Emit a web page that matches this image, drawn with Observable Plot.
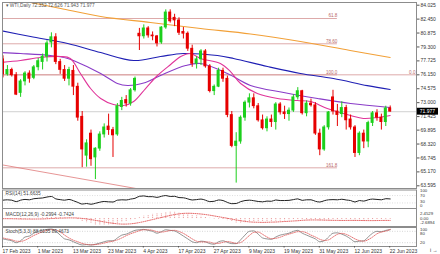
<!DOCTYPE html>
<html><head><meta charset="utf-8">
<script src="https://cdn.jsdelivr.net/npm/d3@7"></script>
<script src="https://cdn.jsdelivr.net/npm/@observablehq/plot@0.6"></script>
<style>
body{margin:0;background:#fff;}
#wrap{position:relative;width:440px;height:254px;overflow:hidden;background:#fff;}
#wrap svg{position:absolute;left:0;}
</style></head><body><div id="wrap"></div>
<script>
// ---------- data ----------
const tickIdx = [0, 8, 16, 24, 32, 40, 48, 56, 64, 72, 80, 88];
const tickLabels = ["17 Feb 2023","1 Mar 2023","13 Mar 2023","23 Mar 2023","4 Apr 2023","17 Apr 2023","27 Apr 2023","9 May 2023","19 May 2023","31 May 2023","12 Jun 2023","22 Jun 2023"];

const open  = [77.9,76.2,76.7,76.1,74.1,75.4,76.3,75.8,77.0,77.6,78.2,79.8,80.4,77.6,76.7,75.7,76.6,74.8,71.4,67.0,69.5,66.8,67.8,69.4,70.3,69.9,69.4,72.5,73.3,72.9,74.4,80.8,80.5,81.4,80.6,80.5,79.8,81.5,83.2,82.6,82.3,81.0,80.8,79.1,77.4,77.9,78.8,77.1,74.3,74.8,76.6,75.7,71.6,68.1,68.6,71.3,73.0,73.5,72.6,71.0,70.1,71.1,70.8,72.8,71.9,71.7,72.1,73.6,74.3,71.8,72.9,72.7,69.5,67.7,70.2,73.6,72.0,71.7,72.4,71.1,70.2,67.3,69.5,68.6,70.7,71.8,71.3,70.8,72.352];
const high  = [78.3,77.2,76.9,76.4,75.6,76.5,76.6,77.2,78.0,78.5,80.0,80.9,80.8,77.9,77.2,77.0,77.2,75.2,72.0,68.8,69.9,67.9,69.7,70.6,71.7,70.2,72.9,73.6,73.8,74.6,75.9,81.4,81.8,81.6,81.0,80.6,81.6,83.5,83.5,83.0,82.6,81.5,81.0,79.5,78.2,79.0,79.0,77.3,75.0,76.9,76.9,76.0,72.0,69.6,71.5,73.2,74.0,74.0,72.9,71.6,71.4,71.6,73.0,73.0,72.6,72.4,73.9,74.7,74.4,73.2,73.4,73.0,70.0,70.4,72.0,74.4,72.8,73.1,72.7,71.6,70.4,69.7,69.9,70.9,72.0,72.2,71.7,72.6,72.626];
const low   = [75.8,76.0,75.9,73.8,73.6,74.9,75.2,75.6,76.6,76.7,77.6,79.2,77.3,76.2,75.4,74.9,73.8,70.9,65.65,65.7,65.8,64.3,67.5,69.0,69.3,66.8,69.2,72.1,72.5,72.6,74.2,78.9,80.2,80.3,80.0,79.3,79.6,81.3,82.0,81.6,80.6,80.2,78.8,77.0,76.8,77.2,76.9,74.1,73.8,74.7,75.3,71.3,67.9,63.9,68.3,70.9,72.4,72.3,70.8,69.9,69.7,70.2,69.9,71.6,71.1,70.9,71.9,73.3,71.6,71.4,72.5,69.3,67.0,67.5,69.9,71.6,70.3,71.3,69.9,69.9,66.8,67.0,67.8,67.9,70.3,70.9,69.9,70.3,71.943];
const close = [76.2,76.7,76.1,73.9,75.4,76.3,75.7,77.0,77.7,78.2,79.7,80.4,77.6,76.7,75.7,76.7,74.8,71.3,67.7,68.4,66.6,67.8,69.4,70.2,69.9,69.3,72.6,73.2,72.9,74.4,75.7,80.5,81.4,80.6,80.5,79.7,81.5,83.2,82.2,82.3,80.9,80.8,79.1,77.4,77.9,78.8,77.1,74.3,74.8,76.6,75.7,71.6,68.1,68.6,71.3,73.0,73.5,72.6,71.0,70.1,71.1,70.8,72.8,71.9,71.7,72.1,73.6,74.3,71.8,72.9,72.7,69.5,67.7,70.2,71.9,72.0,71.6,72.4,71.0,70.2,67.3,69.5,68.6,70.7,71.8,71.3,70.8,72.35,71.977];

// moving averages read at sample bars
const orangeIdx = [-1, 6.25, 13.1, 22.2, 33.5, 44.9, 56.25, 67.6, 78.9, 88];
const orangeVal = [85.0, 84.33, 83.65, 82.75, 82.07, 81.39, 80.77, 79.92, 78.90, 78.11];
const blueIdx = [-0.6, 6.25, 14.7, 22.2, 29.7, 35.8, 41, 48.75, 52.4, 60.1, 67.6, 75.1, 82.8, 88];
const blueVal = [81.16, 80.48, 79.69, 78.67, 77.77, 78.22, 78.56, 78.33, 78.0, 77.09, 76.30, 75.73, 74.93, 74.49];
const purpleIdx = [-0.6, 4, 10.8, 14.7, 16, 22.2, 26, 28.3, 32.4, 35.8, 41.5, 44.9, 51, 56.25, 63.8, 71.5, 79, 88];
const purpleVal = [78.67, 78.56, 78.33, 78.0, 77.77, 76.30, 75.17, 74.94, 75.28, 76.07, 77.20, 77.43, 76.30, 74.94, 74.15, 73.47, 72.90, 72.45];
const magentaIdx = [-0.6, 4, 8.5, 13.1, 15.3, 17.6, 19.9, 22.2, 25.1, 27.4, 29.7, 32.4, 35.1, 38.1, 40.4, 42.6, 44.9, 49.4, 51.7, 54, 57.8, 62.4, 66.9, 69.9, 73.7, 79, 81.9, 85.1, 88];
const magentaVal = [77.54, 77.77, 78.11, 78.22, 78.0, 76.30, 74.60, 73.47, 72.79, 72.68, 73.13, 74.60, 76.07, 77.32, 78.22, 78.56, 78.0, 77.43, 76.52, 75.17, 74.04, 73.47, 73.24, 73.13, 72.34, 71.55, 71.21, 71.32, 71.55];

// horizontal studies
const lastClose = 71.977;
const fibLabels = ["61.8", "78.60", "100.0", "161.8"];
const fibPrices = [82.52, 79.66, 76.15, 65.63];
const fibEndIdx = 76;
const trendIdx = [-0.6, 30.1];
const trendVal = [66.0, 63.3];
const yTicks = [84.025, 82.45, 80.875, 79.3, 77.725, 76.15, 74.575, 73.0, 71.425, 69.895, 68.32, 66.745, 65.17, 63.595];

// indicators
const rsi = [45,47,45,37,45,49,47,53,55,57,62,65,52,48,45,49,42,33,24,27,23,28,34,38,36,35,45,47,46,51,55,66,68,64,64,60,66,70,65,66,59,58,52,46,48,51,45,37,39,46,43,33,26,27,37,43,45,42,38,36,40,39,46,43,43,44,48,52,44,47,47,39,35,42,47,48,47,50,46,43,35,43,40,47,51,49,47,53,51.66];
const macd = [-0.1,-0.1,-0.15,-0.35,-0.35,-0.25,-0.2,-0.05,0.1,0.25,0.45,0.65,0.5,0.35,0.15,0.1,-0.1,-0.55,-1.2,-1.6,-2.0,-2.5,-2.69,-2.6,-2.45,-2.35,-1.9,-1.5,-1.2,-0.8,-0.4,0.3,0.9,1.3,1.6,1.8,2.0,2.3,2.45,2.4,2.2,2.0,1.7,1.3,1.0,0.85,0.55,0.1,-0.2,-0.25,-0.35,-0.8,-1.35,-1.7,-1.75,-1.6,-1.4,-1.3,-1.3,-1.35,-1.25,-1.2,-1.0,-0.95,-0.9,-0.8,-0.6,-0.4,-0.45,-0.4,-0.4,-0.6,-0.9,-0.95,-0.85,-0.7,-0.65,-0.55,-0.55,-0.65,-0.95,-0.95,-1.0,-0.85,-0.65,-0.55,-0.5,-0.3,-0.2994];
const macdSignal = [-0.05,-0.06,-0.08,-0.12,-0.16,-0.19,-0.2,-0.2,-0.18,-0.15,-0.08,0.0,0.08,0.15,0.2,0.25,0.25,0.2,0.05,-0.15,-0.4,-0.7,-1.0,-1.3,-1.6,-1.85,-2.05,-2.15,-2.15,-2.05,-1.85,-1.55,-1.2,-0.8,-0.4,0.0,0.4,0.8,1.2,1.55,1.8,2.0,2.05,2.0,1.9,1.75,1.55,1.3,1.0,0.7,0.4,0.1,-0.25,-0.55,-0.85,-1.1,-1.3,-1.4,-1.45,-1.5,-1.45,-1.4,-1.35,-1.25,-1.15,-1.05,-0.95,-0.85,-0.7,-0.6,-0.55,-0.55,-0.55,-0.6,-0.65,-0.7,-0.72,-0.75,-0.75,-0.72,-0.72,-0.75,-0.78,-0.8,-0.8,-0.78,-0.75,-0.72,-0.7424];
const stochMain = [40,35,30,20,30,50,55,70,80,85,90,92,80,60,40,35,25,15,8,10,8,12,18,25,30,30,45,60,65,75,85,88,90,85,80,70,78,88,85,82,70,55,40,25,20,28,25,15,12,25,30,22,15,15,35,60,80,82,65,45,40,38,50,60,65,70,80,85,70,60,50,40,25,30,50,70,72,65,55,40,25,28,30,50,70,80,78,85,88.6135];
const stochSignal = [45,40,35,28,27,33,45,58,68,78,85,89,87,77,60,45,33,25,16,11,9,10,13,18,24,28,35,45,57,67,75,83,88,88,85,78,76,79,84,85,79,69,55,40,28,24,24,23,17,17,22,26,22,17,21,37,58,74,76,64,50,41,43,49,58,65,72,78,78,72,60,50,38,32,35,50,64,69,64,53,40,31,28,36,50,67,76,81,89.4673];

const headerText = "WTI,Daily 72.352 72.626 71.943 71.977";
const rsiText = "RSI(14) 51.6635";
const macdText = "MACD(12,26,9) -0.2994 -0.7424";
const stochText = "Stoch(5,3,3) 88.6135 89.4673";

// ---------- drawing ----------
const xDom = [-0.114, 93.98];
const green = "#1ccf1c", red = "#e60000";
const fibColor = "#d49494";
const font = "'Liberation Sans', Arial, sans-serif";
const style = {fontSize: "5px", fontFamily: font, background: "transparent", overflow: "visible", color: "#333"};
const frameCol = "#8c8c8c";

const bars = open.map((o, i) => ({i, o, h: high[i], l: low[i], c: close[i], col: close[i] >= o ? green : red}));
const pts = (ix, v) => ix.map((d, k) => ({i: d, v: v[k]}));
const ser = arr => arr.map((v, i) => ({i, v}));
const fibs = fibLabels.map((t, k) => ({t, p: fibPrices[k]}));

function rightText(vals, texts, dys, size = 4.3) {
  return vals.map((v, k) => Plot.text([v], {x: xDom[1], y: d => d, text: () => texts[k], dx: 3.5, dy: dys[k], textAnchor: "start", fill: "#333", fontSize: size}));
}

const wrap = document.getElementById("wrap");

const main = Plot.plot({
  width: 440, height: 188, marginTop: 2, marginBottom: 0, marginLeft: 2, marginRight: 24,
  x: {domain: xDom, axis: null},
  y: {domain: [63.29, 84.33]},
  color: {type: "identity"},
  style,
  marks: [
    Plot.ruleY([lastClose], {stroke: "#c4c4c4", strokeWidth: 0.8}),
    Plot.ruleY(fibs, {y: "p", x1: xDom[0], x2: fibEndIdx, stroke: fibColor, strokeWidth: 0.8}),
    Plot.ruleY([fibPrices[2]], {stroke: fibColor, strokeWidth: 0.8}),
    Plot.text(fibs, {x: fibEndIdx, y: "p", text: "t", textAnchor: "end", dy: -2.6, fill: "#b86a6a", fontSize: 4.6}),
    Plot.text([fibPrices[2]], {x: xDom[1], y: d => d, text: () => "0.0", textAnchor: "end", dx: -1, dy: -1.8, fill: "#b86a6a", fontSize: 4.6}),
    Plot.line(pts(trendIdx, trendVal), {x: "i", y: "v", stroke: "#e07a7a", strokeWidth: 0.8, clip: true}),
    Plot.line(pts(orangeIdx, orangeVal), {x: "i", y: "v", stroke: "#f2a037", strokeWidth: 1.1, curve: "catmull-rom", clip: true}),
    Plot.line(pts(blueIdx, blueVal), {x: "i", y: "v", stroke: "#1f1fb4", strokeWidth: 1.1, curve: "catmull-rom", clip: true}),
    Plot.line(pts(purpleIdx, purpleVal), {x: "i", y: "v", stroke: "#8a3cc8", strokeWidth: 1.1, curve: "catmull-rom", clip: true}),
    Plot.line(pts(magentaIdx, magentaVal), {x: "i", y: "v", stroke: "#e0359a", strokeWidth: 1.1, curve: "catmull-rom", clip: true}),
    Plot.ruleX(bars, {x: "i", y1: "l", y2: "h", stroke: "col", strokeWidth: 1, clip: true}),
    Plot.rect(bars, {x1: d => d.i - 0.34, x2: d => d.i + 0.34, y1: "o", y2: "c", fill: "col", insetTop: -0.4, insetBottom: -0.4, clip: true}),
    Plot.frame({stroke: frameCol, strokeWidth: 1}),
    Plot.axisY(yTicks, {anchor: "right", tickSize: 2.5, tickPadding: 1.5, tickFormat: d => d.toFixed(3), fontSize: 5, fill: "#333", stroke: "#555"}),
    // last-price box on the axis
    Plot.rect([lastClose], {x1: xDom[1] + 0.2, x2: xDom[1] + 5.0, y1: d => d - 0.39, y2: d => d + 0.39, fill: "#000"}),
    Plot.text([lastClose], {x: xDom[1], y: d => d, text: d => d.toFixed(3), dx: 3.2, textAnchor: "start", fill: "#fff", fontSize: 5}),
    Plot.text([headerText], {frameAnchor: "top-left", text: d => "\u25BE " + d, dx: 3, dy: 1.5, fill: "#555", fontSize: 4.8})
  ]
});
main.style.top = "0px";
wrap.appendChild(main);

const rsiPlot = Plot.plot({
  width: 440, height: 20, marginTop: 1.5, marginBottom: 0, marginLeft: 2, marginRight: 24,
  x: {domain: xDom, axis: null},
  y: {domain: [0, 100], axis: null},
  style,
  marks: [
    Plot.ruleY([30, 70], {stroke: "#c8c8c8", strokeWidth: 0.6, strokeDasharray: "1,1.5"}),
    Plot.line(ser(rsi), {x: "i", y: "v", stroke: "#222", strokeWidth: 1, curve: "monotone-x", clip: true}),
    Plot.frame({stroke: frameCol, strokeWidth: 1}),
    Plot.text([rsiText], {frameAnchor: "top-left", text: d => d, dx: 3, dy: 1.5, fill: "#444", fontSize: 4.8}),
    ...rightText([100, 70, 30, 0], ["100", "70", "30", "0"], [0.8, -0.25, -1.15, -2.4])
  ]
});
rsiPlot.style.top = "188px";
wrap.appendChild(rsiPlot);

const macdPlot = Plot.plot({
  width: 440, height: 19, marginTop: 1, marginBottom: 0, marginLeft: 2, marginRight: 24,
  x: {domain: xDom, axis: null},
  y: {domain: [-3.08, 3.88], axis: null},
  style,
  marks: [
    Plot.ruleX(ser(macd), {x: "i", y1: 0, y2: "v", stroke: "#e06a6a", strokeWidth: 0.7, strokeDasharray: "1,0.8", clip: true}),
    Plot.line(ser(macdSignal), {x: "i", y: "v", stroke: "#e04848", strokeWidth: 0.8, strokeDasharray: "1,1.2", clip: true}),
    Plot.frame({stroke: frameCol, strokeWidth: 1}),
    Plot.text([macdText], {frameAnchor: "top-left", text: d => d, dx: 3, dy: 4, fill: "#444", fontSize: 4.8}),
    ...rightText([2.4529, 0, -2.6894], ["2.4529", "0.00", "-2.6894"], [1.1, -0.4, -2.5])
  ]
});
macdPlot.style.top = "207px";
wrap.appendChild(macdPlot);

const stochPlot = Plot.plot({
  width: 440, height: 28, marginTop: 1, marginBottom: 8, marginLeft: 2, marginRight: 24,
  x: {domain: xDom},
  y: {domain: [0, 100], axis: null},
  style,
  marks: [
    Plot.ruleY([20, 80], {stroke: "#b8b8b8", strokeWidth: 0.6, strokeDasharray: "1,1.5"}),
    Plot.line(ser(stochMain), {x: "i", y: "v", stroke: "#7a7a7a", strokeWidth: 0.8, curve: "monotone-x", clip: true}),
    Plot.line(ser(stochSignal), {x: "i", y: "v", stroke: "#e05050", strokeWidth: 0.8, strokeDasharray: "1,1.2", curve: "monotone-x", clip: true}),
    Plot.frame({stroke: frameCol, strokeWidth: 1}),
    Plot.text([stochText], {frameAnchor: "top-left", text: d => d, dx: 3, dy: 2.5, fill: "#444", fontSize: 4.8}),
    ...rightText([100, 80, 20], ["100", "80", "20"], [2.2, 2.7, 0.3]),
    Plot.axisX(tickIdx, {anchor: "bottom", tickSize: 1.5, tickPadding: 1, textAnchor: "start", dx: -0.5, fontSize: 5, fill: "#333", stroke: "#555",
      tickFormat: d => tickLabels[tickIdx.indexOf(d)]})
  ]
});
stochPlot.style.top = "226px";
wrap.appendChild(stochPlot);
</script>
</body></html>
